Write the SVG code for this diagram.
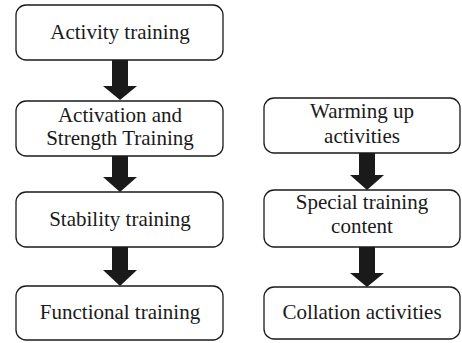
<svg xmlns="http://www.w3.org/2000/svg" width="462" height="343" viewBox="0 0 462 343">
<style>
.box{fill:#fff;stroke:#1a1a1a;stroke-width:1.3}
.t{font-family:"Liberation Serif","Times New Roman",serif;font-size:21px;fill:#1a1a1a;text-anchor:middle}
.arr{fill:#1a1a1a}
</style>
<rect width="462" height="343" fill="#fff"/>
<g id="connectors">
<polygon class="arr" points="112,60 128,60 128,86 137,86 120,100 103,86 112,86"/>
<polygon class="arr" points="112,156 128,156 128,177 137,177 120,192 103,177 112,177"/>
<polygon class="arr" points="112,247 128,247 128,270 137,270 120,286 103,270 112,270"/>
<polygon class="arr" points="359,153 375,153 375,175 384,175 367,190 350,175 359,175"/>
<polygon class="arr" points="359,247 375,247 375,273 384,273 367,287 350,273 359,273"/>
</g>
<g id="n1"><rect class="box" x="16" y="5" width="207" height="55" rx="10"/><text class="t" x="120" y="39">Activity training</text></g>
<g id="n2"><rect class="box" x="16" y="101" width="207" height="55" rx="10"/><text class="t" x="120" y="122">Activation and</text><text class="t" x="120" y="145">Strength Training</text></g>
<g id="n3"><rect class="box" x="16" y="192" width="207" height="55" rx="10"/><text class="t" x="120" y="226">Stability training</text></g>
<g id="n4"><rect class="box" x="16" y="286" width="207" height="54" rx="10"/><text class="t" x="120" y="319">Functional training</text></g>
<g id="n5"><rect class="box" x="264" y="98" width="196" height="55" rx="10"/><text class="t" x="362" y="118">Warming up</text><text class="t" x="362" y="143">activities</text></g>
<g id="n6"><rect class="box" x="264" y="190" width="196" height="57" rx="10"/><text class="t" x="362" y="209">Special training</text><text class="t" x="362" y="233">content</text></g>
<g id="n7"><rect class="box" x="264" y="287" width="196" height="52" rx="10"/><text class="t" x="362" y="319">Collation activities</text></g>
</svg>
